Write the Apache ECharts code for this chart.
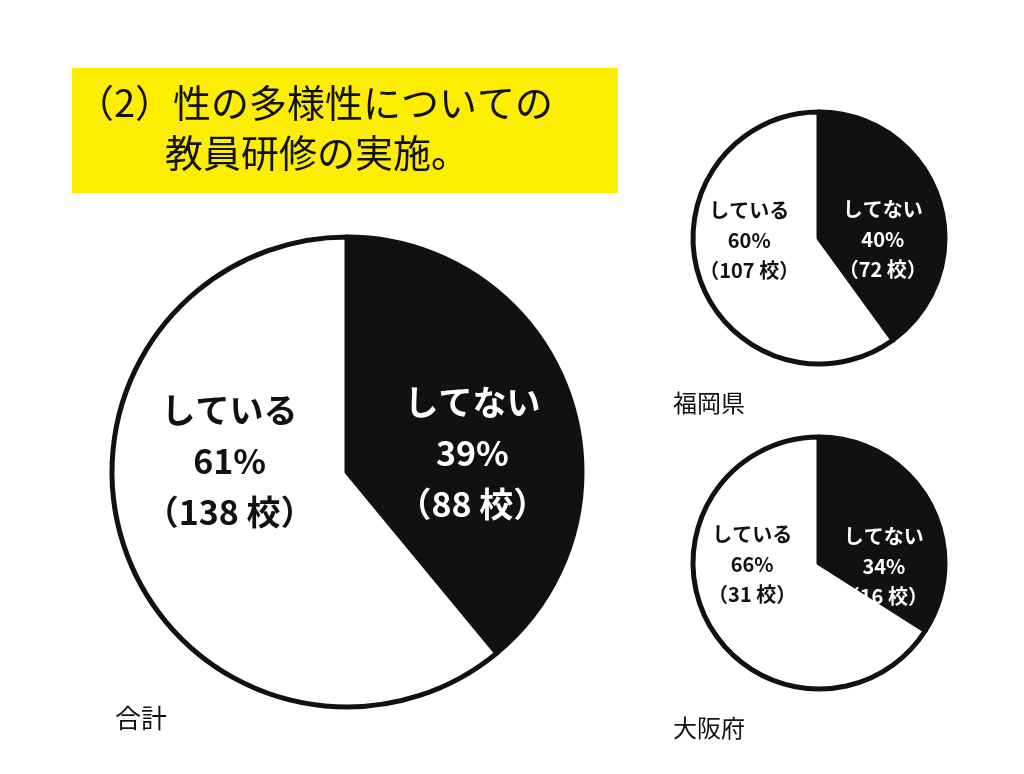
<!DOCTYPE html>
<html><head><meta charset="utf-8">
<script src="https://cdn.jsdelivr.net/npm/echarts@6/dist/echarts.min.js"></script>
<style>html,body{margin:0;background:#fff}#c{width:1024px;height:774px}</style>
</head><body><div id="c"></div>
<script>
// 教員研修の実施（してない / している）
var labels = ['してない', 'している'];
var pieNames = ['合計', '福岡県', '大阪府'];
var percents = [[39, 61], [40, 60], [34, 66]];
var schools = [[88, 138], [72, 107], [16, 31]];

var font = '"Noto Sans CJK JP", sans-serif';
var myChart = echarts.init(document.getElementById('c'));

function pie(i, center, radius, fs, offs) {
  return {
    type: 'pie', center: center, radius: [0, radius],
    startAngle: 90, clockwise: true, silent: true,
    label: { show: false },
    itemStyle: { borderColor: '#111', borderWidth: 5 },
    data: labels.map(function (n, k) {
      return {
        name: n, value: percents[i][k],
        itemStyle: { color: k === 0 ? '#111' : '#fff' },
        label: {
          show: true, position: 'inner', offset: offs[k],
          color: k === 0 ? '#fff' : '#111',
          fontFamily: font, fontWeight: 'bold', fontSize: fs, lineHeight: fs * 1.5,
          formatter: n + '\n' + percents[i][k] + '%\n（' + schools[i][k] + ' 校）'
        }
      };
    })
  };
}

option = {
  backgroundColor: '#fff',
  animation: false,
  graphic: [
    { type: 'rect', shape: { x: 72, y: 68, width: 546, height: 125 }, style: { fill: '#fdee00' } },
    { type: 'text', left: 76, top: 84, style: { text: '（2）性の多様性についての', font: '38px ' + font, fill: '#111' } },
    { type: 'text', left: 165, top: 134, style: { text: '教員研修の実施。', font: '38px ' + font, fill: '#111' } }
  ],
  title: [
    { text: pieNames[0], left: 110, top: 700, textStyle: { fontFamily: font, fontSize: 26, fontWeight: 'normal', color: '#111' } },
    { text: pieNames[1], left: 668, top: 386, textStyle: { fontFamily: font, fontSize: 24, fontWeight: 'normal', color: '#111' } },
    { text: pieNames[2], left: 668, top: 711, textStyle: { fontFamily: font, fontSize: 24, fontWeight: 'normal', color: '#111' } }
  ],
  series: [
    pie(0, [347, 472], 235, 34, [[12, 22], [-4, -52]]),
    pie(1, [819, 238], 126, 20, [[1, 22], [-7, -18]]),
    pie(2, [819, 563], 126, 20, [[7, 35], [-9, -30]])
  ]
};
myChart.setOption(option);
</script></body></html>
